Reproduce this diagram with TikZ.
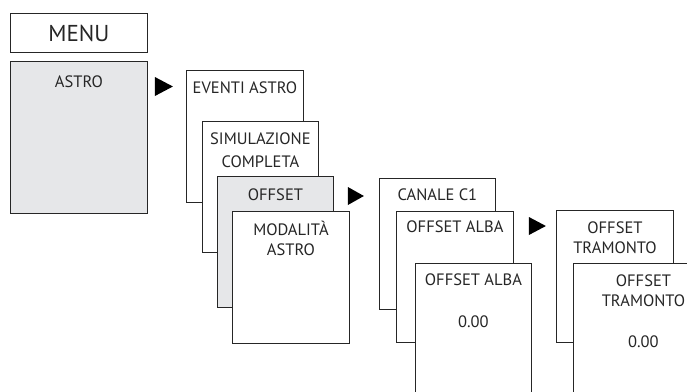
\documentclass[tikz,border=0pt]{standalone}
\usepackage{fontspec}
\setmainfont{PT Sans}
\usetikzlibrary{positioning, calc}
\definecolor{menugrey}{HTML}{E6E7E9}

\begin{document}
\begin{tikzpicture}[x=1pt, y=-1pt,
  box/.style={draw=black!85, line width=0.9pt, fill=white, anchor=north west, inner sep=0, minimum width=117, minimum height=132},
  grey box/.style={box, fill=menugrey},
  lbl/.style={anchor=base, inner sep=0, align=center, font=\fontsize{16.5}{20}\selectfont, text=black!85},
  go/.style={fill=black}]
\clip (0,0) rectangle (687,391);

% main menu
\node [box, minimum width=137, minimum height=39] (menu) at (10,13) {};
\node [lbl, font=\fontsize{23}{26}\selectfont] (menutxt) at ($(menu.north)+(0,28)$) {MENU};
\node [grey box, minimum width=137, minimum height=152] (astro) at (10,61) {};
\node [lbl] (astrotxt) at ($(astro.north)+(0,26)$) {ASTRO};

% astro submenu
\node [box] (eventi) at (186,70) {};
\node [lbl] (eventitxt) at ($(eventi.north)+(0,23)$) {EVENTI ASTRO};
\node [box, minimum width=116, minimum height=131] (simul) at (202,121) {};
\node [lbl] (simultxt) at ($(simul.north)+(0,46)$) {SIMULAZIONE\\[3pt]COMPLETA};
\node [grey box, minimum width=116, minimum height=131] (offset) at (217,176) {};
\node [lbl] (offsettxt) at ($(offset.north)+(0,24)$) {OFFSET};
\node [box] (modal) at (232,211) {};
\node [lbl] (modaltxt) at ($(modal.north)+(0,44)$) {MODALITÀ\\ASTRO};

% offset submenu
\node [box, minimum width=116, minimum height=131] (canale) at (379,178) {};
\node [lbl] (canaletxt) at ($(canale.north)+(0,22)$) {CANALE C1};
\node [box, minimum height=131] (alba) at (396,211) {};
\node [lbl] (albatxt) at ($(alba.north)+(0,21)$) {OFFSET ALBA};
\node [box, minimum width=116, minimum height=150] (albaval) at (415,263) {};
\node [lbl] (albavaltxt) at ($(albaval.north)+(0,64)$) {OFFSET ALBA\\[22pt]0.00};

% sunset
\node [box] (tram) at (556,210) {};
\node [lbl] (tramtxt) at ($(tram.north)+(0,43)$) {OFFSET\\TRAMONTO};
\node [box, minimum width=140, minimum height=150] (tramval) at (573,263) {};
\node [lbl] (tramvaltxt) at ($(tramval.north)+(0,84)$) {OFFSET\\TRAMONTO\\[21pt]0.00};

% arrows
\fill [go] ($(astro.north east)+(7,16)$) -- ++(0,19) -- ++(18,-9.5) -- cycle;
\fill [go] ($(offset.north east)+(14,11)$) -- ++(0,18) -- ++(16,-9) -- cycle;
\fill [go] ($(alba.north east)+(15,6)$) -- ++(0,18) -- ++(17,-9) -- cycle;
\end{tikzpicture}
\end{document}
